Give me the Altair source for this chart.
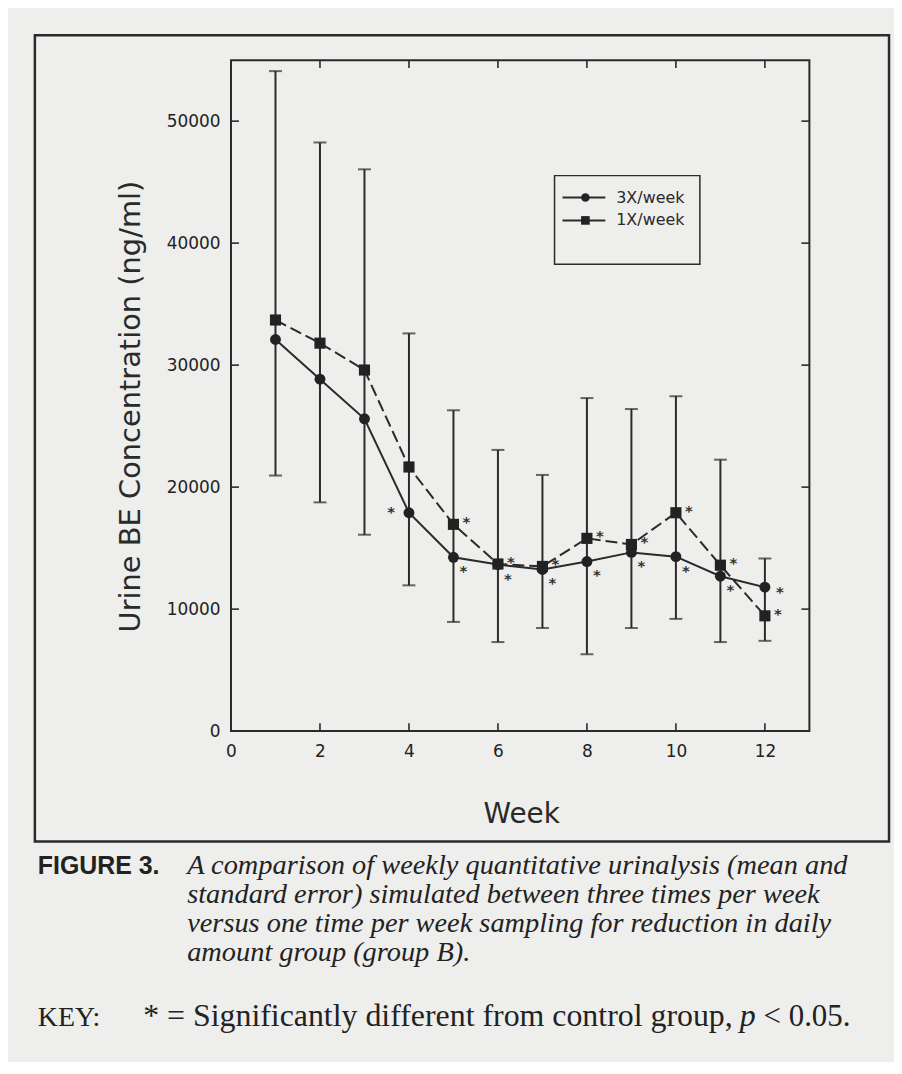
import altair as alt
import pandas as pd

# ---------------- data ----------------
weeks = [1, 2, 3, 4, 5, 6, 7, 8, 9, 10, 11, 12]
mean_3x = [32100, 28850, 25600, 17900, 14250, 13650, 13250, 13900, 14650, 14300, 12700, 11800]
mean_1x = [33700, 31800, 29600, 21650, 16950, 13700, 13500, 15800, 15300, 17900, 13600, 9450]
err_high = [54100, 48250, 46050, 32600, 26300, 23050, 21000, 27300, 26400, 27450, 22250, 14150]
err_low = [20950, 18750, 16100, 11950, 8950, 7300, 8450, 6300, 8450, 9200, 7300, 7400]
sig_3x = [4, 5, 6, 7, 8, 9, 10, 11, 12]
sig_1x = [5, 6, 7, 8, 9, 10, 11, 12]
series_names = ["3X/week", "1X/week"]
x_ticks = [0, 2, 4, 6, 8, 10, 12]
y_ticks = [0, 10000, 20000, 30000, 40000, 50000]
x_title = "Week"
y_title = "Urine BE Concentration (ng/ml)"
fig_label = "FIGURE 3."
caption_lines = [
    "A comparison of weekly quantitative urinalysis (mean and",
    "standard error) simulated between three times per week",
    "versus one time per week sampling for reduction in daily",
    "amount group (group B).",
]
key_label = "KEY:"
key_parts = ["* = Significantly different from control group,", "p", "< 0.05."]

# ---------------- styling ----------------
W, H = 581, 674
INK = "#2a2a2a"
BG = "#eeeeec"
SANS = "DejaVu Sans"
SERIF = "Liberation Serif"

xs = alt.Scale(domain=[0, 13], nice=False, zero=False)
ys = alt.Scale(domain=[0, 55000], nice=False, zero=False)

df = pd.DataFrame({"week": weeks, "m3": mean_3x, "m1": mean_1x,
                   "hi": err_high, "lo": err_low})
one = pd.DataFrame({"k": [0]})

x_axis = alt.Axis(values=x_ticks, title=None, ticks=False, domain=False, grid=False,
                  labelPadding=12, labelFont=SANS, labelFontSize=17, labelColor="#222",
                  format="d", labelFlush=False)
y_axis = alt.Axis(values=y_ticks, title=None, ticks=False, domain=False, grid=False,
                  labelPadding=11, labelFont=SANS, labelFontSize=17, labelColor="#222",
                  format="d")


def X(field="week"):
    return alt.X(f"{field}:Q", scale=xs, axis=x_axis, title=None)


def Y(field):
    return alt.Y(f"{field}:Q", scale=ys, axis=y_axis, title=None)


layers = []

# error bars
layers.append(alt.Chart(df).mark_rule(color=INK, strokeWidth=2).encode(
    x=X(), y=Y("lo"), y2="hi:Q"))
layers.append(alt.Chart(df).mark_tick(orient="horizontal", size=13, thickness=2, color=INK)
              .encode(x=X(), y=Y("hi")))
layers.append(alt.Chart(df).mark_tick(orient="horizontal", size=13, thickness=2, color=INK)
              .encode(x=X(), y=Y("lo")))

# inward axis ticks
ytk = pd.DataFrame({"v": y_ticks[1:]})
xtk = pd.DataFrame({"v": x_ticks[1:]})
layers.append(alt.Chart(ytk).mark_rule(color=INK, strokeWidth=1.6).encode(
    y=Y("v"), x=alt.value(0), x2=alt.value(8)))
layers.append(alt.Chart(ytk).mark_rule(color=INK, strokeWidth=1.6).encode(
    y=Y("v"), x=alt.value(W - 8), x2=alt.value(W)))
layers.append(alt.Chart(xtk).mark_rule(color=INK, strokeWidth=1.6).encode(
    x=X("v"), y=alt.value(H - 8), y2=alt.value(H)))
layers.append(alt.Chart(xtk).mark_rule(color=INK, strokeWidth=1.6).encode(
    x=X("v"), y=alt.value(0), y2=alt.value(8)))

# series lines and markers
layers.append(alt.Chart(df).mark_line(color=INK, strokeWidth=2).encode(x=X(), y=Y("m3")))
layers.append(alt.Chart(df).mark_line(color=INK, strokeWidth=2, strokeDash=[12, 5])
              .encode(x=X(), y=Y("m1")))
layers.append(alt.Chart(df).mark_point(shape="circle", filled=True, size=120, color="#222",
                                       opacity=1).encode(x=X(), y=Y("m3")))
layers.append(alt.Chart(df).mark_point(shape="square", filled=True, size=125, color="#222",
                                       opacity=1).encode(x=X(), y=Y("m1")))

# significance stars
s3 = pd.DataFrame({"week": sig_3x, "v": [mean_3x[w - 1] for w in sig_3x]})
s1 = pd.DataFrame({"week": sig_1x, "v": [mean_1x[w - 1] for w in sig_1x]})
star = dict(text="*", font=SANS, fontSize=15, fontWeight="bold", color="#333",
            baseline="middle", align="center")
layers.append(alt.Chart(s3).transform_filter("datum.week > 4 && datum.week < 12")
              .mark_text(dx=10, dy=14, **star).encode(x=X(), y=Y("v")))
layers.append(alt.Chart(s3).transform_filter("datum.week == 12")
              .mark_text(dx=15, dy=5, **star).encode(x=X(), y=Y("v")))
layers.append(alt.Chart(s3).transform_filter("datum.week == 4")
              .mark_text(dx=-18, dy=-1, **star).encode(x=X(), y=Y("v")))
layers.append(alt.Chart(s1).mark_text(dx=13, dy=-2, **star).encode(x=X(), y=Y("v")))

# legend (drawn inside the plot)
layers.append(alt.Chart(one).mark_rect(fill=BG, stroke=INK, strokeWidth=1.5).encode(
    x=alt.value(325), x2=alt.value(471), y=alt.value(116), y2=alt.value(205)))
for i, (name, shape) in enumerate(zip(series_names, ["circle", "square"])):
    ly = 138 + 23 * i
    layers.append(alt.Chart(one).mark_rule(color=INK, strokeWidth=2).encode(
        x=alt.value(333), x2=alt.value(376), y=alt.value(ly)))
    layers.append(alt.Chart(one).mark_point(shape=shape, filled=True, size=75, color="#222",
                                            opacity=1).encode(x=alt.value(356), y=alt.value(ly)))
    layers.append(alt.Chart(one).mark_text(text=name, font=SANS, fontSize=16, color=INK,
                                           align="left", baseline="middle").encode(
        x=alt.value(387), y=alt.value(ly)))

# axis titles
layers.append(alt.Chart(one).mark_text(text=x_title, font=SANS, fontSize=28, color=INK,
                                       align="center", baseline="alphabetic").encode(
    x=alt.value(292), y=alt.value(766)))
layers.append(alt.Chart(one).mark_text(text=y_title, font=SANS, fontSize=29, color=INK,
                                       angle=270, align="center", baseline="middle").encode(
    x=alt.value(-100), y=alt.value(348)))

# outer figure frame
layers.append(alt.Chart(one).mark_rect(fillOpacity=0, stroke=INK, strokeWidth=2.5).encode(
    x=alt.value(-197), x2=alt.value(661), y=alt.value(-25), y2=alt.value(785)))

# caption
layers.append(alt.Chart(one).mark_text(text=fig_label, font="Liberation Sans", fontSize=25,
                                       fontWeight="bold", color="#222", align="left",
                                       baseline="alphabetic").encode(
    x=alt.value(-194), y=alt.value(818)))
for j, line in enumerate(caption_lines):
    layers.append(alt.Chart(one).mark_text(text=line, font=SERIF, fontSize=28.5,
                                           fontStyle="italic", color="#222",
                                           align="left", baseline="alphabetic").encode(
        x=alt.value(-44), y=alt.value(818 + 29 * j)))
layers.append(alt.Chart(one).mark_text(text=key_label, font=SERIF, fontSize=28, color="#222",
                                       align="left", baseline="alphabetic").encode(
    x=alt.value(-194), y=alt.value(970)))
layers.append(alt.Chart(one).mark_text(text=key_parts[0], font=SERIF, fontSize=32, color="#222",
                                       align="right", baseline="alphabetic").encode(
    x=alt.value(504), y=alt.value(970)))
layers.append(alt.Chart(one).mark_text(text=key_parts[1], font=SERIF, fontSize=32, color="#222",
                                       fontStyle="italic", align="left",
                                       baseline="alphabetic").encode(
    x=alt.value(511), y=alt.value(970)))
layers.append(alt.Chart(one).mark_text(text=key_parts[2], font=SERIF, fontSize=31, color="#222",
                                       align="left", baseline="alphabetic").encode(
    x=alt.value(535), y=alt.value(970)))

chart = alt.layer(*layers).properties(
    width=W, height=H,
    padding={"left": 224, "top": 50, "right": 85, "bottom": 330},
    autosize=alt.AutoSizeParams(type="none"),
    background=BG,
).configure_view(stroke=INK, strokeWidth=2)

chart.save("out.html", embed_options={"renderer": "svg", "actions": False})
